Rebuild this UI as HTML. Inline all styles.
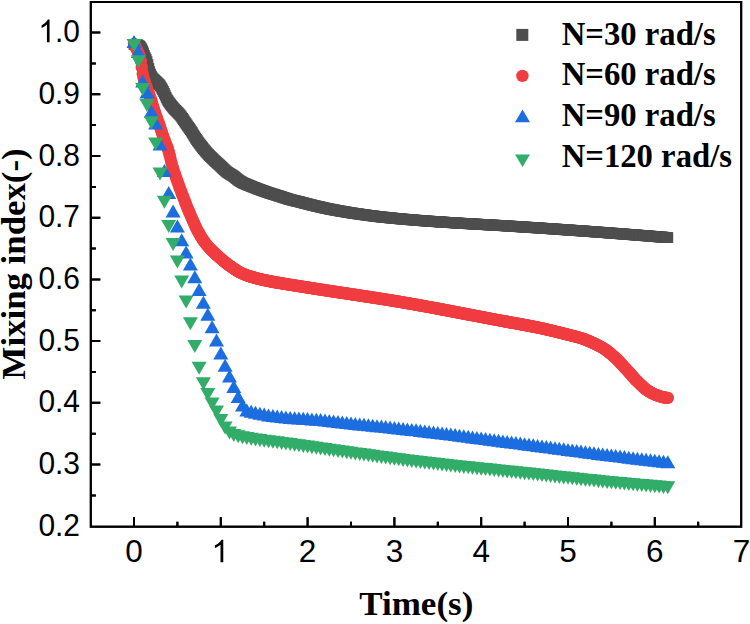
<!DOCTYPE html>
<html><head><meta charset="utf-8"><style>html,body{margin:0;padding:0;background:#fff;width:750px;height:624px;overflow:hidden}svg{display:block}</style></head>
<body>
<svg width="750" height="624" viewBox="0 0 750 624">
<style>
.tk{font-family:"Liberation Sans",sans-serif;font-size:31.5px;fill:#000}
.lg{font-family:"Liberation Serif",serif;font-weight:bold;font-size:32.7px;fill:#000}
.ax{font-family:"Liberation Serif",serif;font-weight:bold;font-size:35px;fill:#000}
</style>
<rect width="750" height="624" fill="#fff"/>
<rect x="90.8" y="2.0" width="650.4" height="524.7" fill="none" stroke="#000" stroke-width="2"/><path d="M134.0 526.7V517.2M177.4 526.7V521.7M220.8 526.7V517.2M264.2 526.7V521.7M307.6 526.7V517.2M351.0 526.7V521.7M394.4 526.7V517.2M437.8 526.7V521.7M481.2 526.7V517.2M524.6 526.7V521.7M568.0 526.7V517.2M611.4 526.7V521.7M654.8 526.7V517.2M698.2 526.7V521.7M90.8 495.4H95.8M90.8 464.5H100.3M90.8 433.7H95.8M90.8 402.8H100.3M90.8 372.0H95.8M90.8 341.1H100.3M90.8 310.2H95.8M90.8 279.4H100.3M90.8 248.5H95.8M90.8 217.7H100.3M90.8 186.9H95.8M90.8 156.0H100.3M90.8 125.1H95.8M90.8 94.3H100.3M90.8 63.4H95.8M90.8 32.6H100.3" stroke="#000" stroke-width="2" fill="none"/>
<g fill="#4e4e4e"><rect x="128.6" y="39.1" width="10.8" height="10.8"/><rect x="129.5" y="39.1" width="10.8" height="10.8"/><rect x="130.3" y="39.2" width="10.8" height="10.8"/><rect x="131.2" y="39.3" width="10.8" height="10.8"/><rect x="132.1" y="39.5" width="10.8" height="10.8"/><rect x="132.9" y="39.7" width="10.8" height="10.8"/><rect x="133.8" y="40.3" width="10.8" height="10.8"/><rect x="134.7" y="41.1" width="10.8" height="10.8"/><rect x="135.5" y="42.2" width="10.8" height="10.8"/><rect x="136.4" y="43.6" width="10.8" height="10.8"/><rect x="137.3" y="45.4" width="10.8" height="10.8"/><rect x="138.1" y="47.5" width="10.8" height="10.8"/><rect x="139.0" y="50.0" width="10.8" height="10.8"/><rect x="139.9" y="52.3" width="10.8" height="10.8"/><rect x="140.8" y="54.2" width="10.8" height="10.8"/><rect x="141.6" y="56.2" width="10.8" height="10.8"/><rect x="142.5" y="59.1" width="10.8" height="10.8"/><rect x="143.4" y="63.1" width="10.8" height="10.8"/><rect x="144.2" y="66.2" width="10.8" height="10.8"/><rect x="145.1" y="68.6" width="10.8" height="10.8"/><rect x="146.0" y="70.6" width="10.8" height="10.8"/><rect x="146.8" y="72.2" width="10.8" height="10.8"/><rect x="147.7" y="73.3" width="10.8" height="10.8"/><rect x="148.6" y="74.2" width="10.8" height="10.8"/><rect x="149.4" y="75.0" width="10.8" height="10.8"/><rect x="150.3" y="75.8" width="10.8" height="10.8"/><rect x="151.2" y="76.6" width="10.8" height="10.8"/><rect x="152.0" y="77.4" width="10.8" height="10.8"/><rect x="152.9" y="78.3" width="10.8" height="10.8"/><rect x="153.8" y="79.1" width="10.8" height="10.8"/><rect x="154.6" y="80.2" width="10.8" height="10.8"/><rect x="155.5" y="81.4" width="10.8" height="10.8"/><rect x="156.4" y="82.9" width="10.8" height="10.8"/><rect x="157.2" y="84.5" width="10.8" height="10.8"/><rect x="158.1" y="86.1" width="10.8" height="10.8"/><rect x="159.0" y="87.9" width="10.8" height="10.8"/><rect x="159.8" y="89.9" width="10.8" height="10.8"/><rect x="160.7" y="91.9" width="10.8" height="10.8"/><rect x="161.6" y="93.7" width="10.8" height="10.8"/><rect x="162.5" y="95.2" width="10.8" height="10.8"/><rect x="163.3" y="96.5" width="10.8" height="10.8"/><rect x="164.2" y="97.7" width="10.8" height="10.8"/><rect x="165.1" y="98.9" width="10.8" height="10.8"/><rect x="165.9" y="100.0" width="10.8" height="10.8"/><rect x="166.8" y="101.0" width="10.8" height="10.8"/><rect x="167.7" y="102.1" width="10.8" height="10.8"/><rect x="168.5" y="103.1" width="10.8" height="10.8"/><rect x="169.4" y="104.1" width="10.8" height="10.8"/><rect x="170.3" y="105.0" width="10.8" height="10.8"/><rect x="171.1" y="105.8" width="10.8" height="10.8"/><rect x="172.0" y="106.7" width="10.8" height="10.8"/><rect x="172.9" y="107.6" width="10.8" height="10.8"/><rect x="173.7" y="108.5" width="10.8" height="10.8"/><rect x="174.6" y="109.5" width="10.8" height="10.8"/><rect x="175.5" y="110.6" width="10.8" height="10.8"/><rect x="176.3" y="111.7" width="10.8" height="10.8"/><rect x="177.2" y="113.0" width="10.8" height="10.8"/><rect x="178.1" y="114.3" width="10.8" height="10.8"/><rect x="178.9" y="115.6" width="10.8" height="10.8"/><rect x="179.8" y="116.9" width="10.8" height="10.8"/><rect x="180.7" y="118.2" width="10.8" height="10.8"/><rect x="181.5" y="119.5" width="10.8" height="10.8"/><rect x="182.4" y="120.7" width="10.8" height="10.8"/><rect x="183.3" y="121.9" width="10.8" height="10.8"/><rect x="184.2" y="123.2" width="10.8" height="10.8"/><rect x="185.0" y="124.4" width="10.8" height="10.8"/><rect x="185.9" y="125.7" width="10.8" height="10.8"/><rect x="186.8" y="127.1" width="10.8" height="10.8"/><rect x="187.6" y="128.5" width="10.8" height="10.8"/><rect x="188.5" y="130.0" width="10.8" height="10.8"/><rect x="189.4" y="131.4" width="10.8" height="10.8"/><rect x="190.2" y="132.8" width="10.8" height="10.8"/><rect x="191.1" y="134.1" width="10.8" height="10.8"/><rect x="192.0" y="135.3" width="10.8" height="10.8"/><rect x="192.8" y="136.5" width="10.8" height="10.8"/><rect x="193.7" y="137.7" width="10.8" height="10.8"/><rect x="194.6" y="138.9" width="10.8" height="10.8"/><rect x="195.4" y="140.0" width="10.8" height="10.8"/><rect x="196.3" y="141.1" width="10.8" height="10.8"/><rect x="197.2" y="142.2" width="10.8" height="10.8"/><rect x="198.0" y="143.3" width="10.8" height="10.8"/><rect x="198.9" y="144.3" width="10.8" height="10.8"/><rect x="199.8" y="145.4" width="10.8" height="10.8"/><rect x="200.6" y="146.4" width="10.8" height="10.8"/><rect x="201.5" y="147.4" width="10.8" height="10.8"/><rect x="202.4" y="148.4" width="10.8" height="10.8"/><rect x="203.2" y="149.3" width="10.8" height="10.8"/><rect x="204.1" y="150.2" width="10.8" height="10.8"/><rect x="205.0" y="151.1" width="10.8" height="10.8"/><rect x="205.9" y="151.9" width="10.8" height="10.8"/><rect x="206.7" y="152.8" width="10.8" height="10.8"/><rect x="207.6" y="153.6" width="10.8" height="10.8"/><rect x="208.5" y="154.5" width="10.8" height="10.8"/><rect x="209.3" y="155.3" width="10.8" height="10.8"/><rect x="210.2" y="156.1" width="10.8" height="10.8"/><rect x="211.1" y="156.9" width="10.8" height="10.8"/><rect x="211.9" y="157.7" width="10.8" height="10.8"/><rect x="212.8" y="158.5" width="10.8" height="10.8"/><rect x="213.7" y="159.2" width="10.8" height="10.8"/><rect x="214.5" y="160.0" width="10.8" height="10.8"/><rect x="215.4" y="160.9" width="10.8" height="10.8"/><rect x="216.3" y="161.7" width="10.8" height="10.8"/><rect x="217.1" y="162.6" width="10.8" height="10.8"/><rect x="218.0" y="163.4" width="10.8" height="10.8"/><rect x="218.9" y="164.2" width="10.8" height="10.8"/><rect x="219.7" y="165.0" width="10.8" height="10.8"/><rect x="220.6" y="165.8" width="10.8" height="10.8"/><rect x="221.5" y="166.5" width="10.8" height="10.8"/><rect x="222.3" y="167.1" width="10.8" height="10.8"/><rect x="223.2" y="167.7" width="10.8" height="10.8"/><rect x="224.1" y="168.2" width="10.8" height="10.8"/><rect x="224.9" y="168.8" width="10.8" height="10.8"/><rect x="225.8" y="169.3" width="10.8" height="10.8"/><rect x="226.7" y="169.8" width="10.8" height="10.8"/><rect x="227.6" y="170.4" width="10.8" height="10.8"/><rect x="228.4" y="171.0" width="10.8" height="10.8"/><rect x="229.3" y="171.7" width="10.8" height="10.8"/><rect x="230.2" y="172.4" width="10.8" height="10.8"/><rect x="231.0" y="173.1" width="10.8" height="10.8"/><rect x="231.9" y="173.8" width="10.8" height="10.8"/><rect x="232.8" y="174.5" width="10.8" height="10.8"/><rect x="233.6" y="175.2" width="10.8" height="10.8"/><rect x="234.5" y="175.7" width="10.8" height="10.8"/><rect x="235.4" y="176.2" width="10.8" height="10.8"/><rect x="236.2" y="176.7" width="10.8" height="10.8"/><rect x="237.1" y="177.2" width="10.8" height="10.8"/><rect x="238.0" y="177.6" width="10.8" height="10.8"/><rect x="238.8" y="178.0" width="10.8" height="10.8"/><rect x="239.7" y="178.4" width="10.8" height="10.8"/><rect x="240.6" y="178.7" width="10.8" height="10.8"/><rect x="241.4" y="179.1" width="10.8" height="10.8"/><rect x="242.3" y="179.5" width="10.8" height="10.8"/><rect x="243.2" y="179.8" width="10.8" height="10.8"/><rect x="244.0" y="180.2" width="10.8" height="10.8"/><rect x="244.9" y="180.5" width="10.8" height="10.8"/><rect x="245.8" y="180.9" width="10.8" height="10.8"/><rect x="246.6" y="181.2" width="10.8" height="10.8"/><rect x="247.5" y="181.6" width="10.8" height="10.8"/><rect x="248.4" y="181.9" width="10.8" height="10.8"/><rect x="249.3" y="182.3" width="10.8" height="10.8"/><rect x="250.1" y="182.6" width="10.8" height="10.8"/><rect x="251.0" y="182.9" width="10.8" height="10.8"/><rect x="251.9" y="183.3" width="10.8" height="10.8"/><rect x="252.7" y="183.6" width="10.8" height="10.8"/><rect x="253.6" y="183.9" width="10.8" height="10.8"/><rect x="254.5" y="184.2" width="10.8" height="10.8"/><rect x="255.3" y="184.6" width="10.8" height="10.8"/><rect x="256.2" y="184.9" width="10.8" height="10.8"/><rect x="257.1" y="185.2" width="10.8" height="10.8"/><rect x="257.9" y="185.5" width="10.8" height="10.8"/><rect x="258.8" y="185.8" width="10.8" height="10.8"/><rect x="259.7" y="186.1" width="10.8" height="10.8"/><rect x="260.5" y="186.4" width="10.8" height="10.8"/><rect x="261.4" y="186.7" width="10.8" height="10.8"/><rect x="262.3" y="187.0" width="10.8" height="10.8"/><rect x="263.1" y="187.3" width="10.8" height="10.8"/><rect x="264.0" y="187.6" width="10.8" height="10.8"/><rect x="264.9" y="187.9" width="10.8" height="10.8"/><rect x="265.7" y="188.1" width="10.8" height="10.8"/><rect x="266.6" y="188.4" width="10.8" height="10.8"/><rect x="267.5" y="188.7" width="10.8" height="10.8"/><rect x="268.3" y="189.0" width="10.8" height="10.8"/><rect x="269.2" y="189.2" width="10.8" height="10.8"/><rect x="270.1" y="189.5" width="10.8" height="10.8"/><rect x="271.0" y="189.8" width="10.8" height="10.8"/><rect x="271.8" y="190.0" width="10.8" height="10.8"/><rect x="272.7" y="190.3" width="10.8" height="10.8"/><rect x="273.6" y="190.6" width="10.8" height="10.8"/><rect x="274.4" y="190.8" width="10.8" height="10.8"/><rect x="275.3" y="191.1" width="10.8" height="10.8"/><rect x="276.2" y="191.4" width="10.8" height="10.8"/><rect x="277.0" y="191.7" width="10.8" height="10.8"/><rect x="277.9" y="192.0" width="10.8" height="10.8"/><rect x="278.8" y="192.3" width="10.8" height="10.8"/><rect x="279.6" y="192.6" width="10.8" height="10.8"/><rect x="280.5" y="192.8" width="10.8" height="10.8"/><rect x="281.4" y="193.1" width="10.8" height="10.8"/><rect x="282.2" y="193.4" width="10.8" height="10.8"/><rect x="283.1" y="193.7" width="10.8" height="10.8"/><rect x="284.0" y="193.9" width="10.8" height="10.8"/><rect x="284.8" y="194.2" width="10.8" height="10.8"/><rect x="285.7" y="194.4" width="10.8" height="10.8"/><rect x="286.6" y="194.6" width="10.8" height="10.8"/><rect x="287.4" y="194.9" width="10.8" height="10.8"/><rect x="288.3" y="195.1" width="10.8" height="10.8"/><rect x="289.2" y="195.3" width="10.8" height="10.8"/><rect x="290.0" y="195.5" width="10.8" height="10.8"/><rect x="290.9" y="195.7" width="10.8" height="10.8"/><rect x="291.8" y="195.9" width="10.8" height="10.8"/><rect x="292.7" y="196.1" width="10.8" height="10.8"/><rect x="293.5" y="196.3" width="10.8" height="10.8"/><rect x="294.4" y="196.5" width="10.8" height="10.8"/><rect x="295.3" y="196.8" width="10.8" height="10.8"/><rect x="296.1" y="197.0" width="10.8" height="10.8"/><rect x="297.0" y="197.2" width="10.8" height="10.8"/><rect x="297.9" y="197.4" width="10.8" height="10.8"/><rect x="298.7" y="197.7" width="10.8" height="10.8"/><rect x="299.6" y="197.9" width="10.8" height="10.8"/><rect x="300.5" y="198.1" width="10.8" height="10.8"/><rect x="301.3" y="198.3" width="10.8" height="10.8"/><rect x="302.2" y="198.5" width="10.8" height="10.8"/><rect x="303.1" y="198.8" width="10.8" height="10.8"/><rect x="303.9" y="199.0" width="10.8" height="10.8"/><rect x="304.8" y="199.2" width="10.8" height="10.8"/><rect x="305.7" y="199.4" width="10.8" height="10.8"/><rect x="306.5" y="199.7" width="10.8" height="10.8"/><rect x="307.4" y="199.9" width="10.8" height="10.8"/><rect x="308.3" y="200.1" width="10.8" height="10.8"/><rect x="309.1" y="200.3" width="10.8" height="10.8"/><rect x="310.0" y="200.5" width="10.8" height="10.8"/><rect x="310.9" y="200.7" width="10.8" height="10.8"/><rect x="311.7" y="200.9" width="10.8" height="10.8"/><rect x="312.6" y="201.1" width="10.8" height="10.8"/><rect x="313.5" y="201.3" width="10.8" height="10.8"/><rect x="314.4" y="201.5" width="10.8" height="10.8"/><rect x="315.2" y="201.7" width="10.8" height="10.8"/><rect x="316.1" y="201.9" width="10.8" height="10.8"/><rect x="317.0" y="202.1" width="10.8" height="10.8"/><rect x="317.8" y="202.3" width="10.8" height="10.8"/><rect x="318.7" y="202.5" width="10.8" height="10.8"/><rect x="319.6" y="202.7" width="10.8" height="10.8"/><rect x="320.4" y="202.9" width="10.8" height="10.8"/><rect x="321.3" y="203.0" width="10.8" height="10.8"/><rect x="322.2" y="203.2" width="10.8" height="10.8"/><rect x="323.0" y="203.4" width="10.8" height="10.8"/><rect x="323.9" y="203.6" width="10.8" height="10.8"/><rect x="324.8" y="203.8" width="10.8" height="10.8"/><rect x="325.6" y="203.9" width="10.8" height="10.8"/><rect x="326.5" y="204.1" width="10.8" height="10.8"/><rect x="327.4" y="204.3" width="10.8" height="10.8"/><rect x="328.2" y="204.4" width="10.8" height="10.8"/><rect x="329.1" y="204.6" width="10.8" height="10.8"/><rect x="330.0" y="204.8" width="10.8" height="10.8"/><rect x="330.8" y="204.9" width="10.8" height="10.8"/><rect x="331.7" y="205.1" width="10.8" height="10.8"/><rect x="332.6" y="205.2" width="10.8" height="10.8"/><rect x="333.4" y="205.4" width="10.8" height="10.8"/><rect x="334.3" y="205.6" width="10.8" height="10.8"/><rect x="335.2" y="205.7" width="10.8" height="10.8"/><rect x="336.1" y="205.8" width="10.8" height="10.8"/><rect x="336.9" y="206.0" width="10.8" height="10.8"/><rect x="337.8" y="206.1" width="10.8" height="10.8"/><rect x="338.7" y="206.3" width="10.8" height="10.8"/><rect x="339.5" y="206.4" width="10.8" height="10.8"/><rect x="340.4" y="206.6" width="10.8" height="10.8"/><rect x="341.3" y="206.7" width="10.8" height="10.8"/><rect x="342.1" y="206.9" width="10.8" height="10.8"/><rect x="343.0" y="207.0" width="10.8" height="10.8"/><rect x="343.9" y="207.1" width="10.8" height="10.8"/><rect x="344.7" y="207.3" width="10.8" height="10.8"/><rect x="345.6" y="207.4" width="10.8" height="10.8"/><rect x="346.5" y="207.6" width="10.8" height="10.8"/><rect x="347.3" y="207.7" width="10.8" height="10.8"/><rect x="348.2" y="207.8" width="10.8" height="10.8"/><rect x="349.1" y="208.0" width="10.8" height="10.8"/><rect x="349.9" y="208.1" width="10.8" height="10.8"/><rect x="350.8" y="208.2" width="10.8" height="10.8"/><rect x="351.7" y="208.4" width="10.8" height="10.8"/><rect x="352.5" y="208.5" width="10.8" height="10.8"/><rect x="353.4" y="208.6" width="10.8" height="10.8"/><rect x="354.3" y="208.7" width="10.8" height="10.8"/><rect x="355.1" y="208.9" width="10.8" height="10.8"/><rect x="356.0" y="209.0" width="10.8" height="10.8"/><rect x="356.9" y="209.1" width="10.8" height="10.8"/><rect x="357.8" y="209.2" width="10.8" height="10.8"/><rect x="358.6" y="209.4" width="10.8" height="10.8"/><rect x="359.5" y="209.5" width="10.8" height="10.8"/><rect x="360.4" y="209.6" width="10.8" height="10.8"/><rect x="361.2" y="209.7" width="10.8" height="10.8"/><rect x="362.1" y="209.8" width="10.8" height="10.8"/><rect x="363.0" y="210.0" width="10.8" height="10.8"/><rect x="363.8" y="210.1" width="10.8" height="10.8"/><rect x="364.7" y="210.2" width="10.8" height="10.8"/><rect x="365.6" y="210.3" width="10.8" height="10.8"/><rect x="366.4" y="210.4" width="10.8" height="10.8"/><rect x="367.3" y="210.5" width="10.8" height="10.8"/><rect x="368.2" y="210.6" width="10.8" height="10.8"/><rect x="369.0" y="210.7" width="10.8" height="10.8"/><rect x="369.9" y="210.8" width="10.8" height="10.8"/><rect x="370.8" y="211.0" width="10.8" height="10.8"/><rect x="371.6" y="211.1" width="10.8" height="10.8"/><rect x="372.5" y="211.2" width="10.8" height="10.8"/><rect x="373.4" y="211.3" width="10.8" height="10.8"/><rect x="374.2" y="211.4" width="10.8" height="10.8"/><rect x="375.1" y="211.5" width="10.8" height="10.8"/><rect x="376.0" y="211.6" width="10.8" height="10.8"/><rect x="376.8" y="211.7" width="10.8" height="10.8"/><rect x="377.7" y="211.7" width="10.8" height="10.8"/><rect x="378.6" y="211.8" width="10.8" height="10.8"/><rect x="379.5" y="211.9" width="10.8" height="10.8"/><rect x="380.3" y="212.0" width="10.8" height="10.8"/><rect x="381.2" y="212.1" width="10.8" height="10.8"/><rect x="382.1" y="212.2" width="10.8" height="10.8"/><rect x="382.9" y="212.3" width="10.8" height="10.8"/><rect x="383.8" y="212.4" width="10.8" height="10.8"/><rect x="384.7" y="212.5" width="10.8" height="10.8"/><rect x="385.5" y="212.6" width="10.8" height="10.8"/><rect x="386.4" y="212.6" width="10.8" height="10.8"/><rect x="387.3" y="212.7" width="10.8" height="10.8"/><rect x="388.1" y="212.8" width="10.8" height="10.8"/><rect x="389.0" y="212.9" width="10.8" height="10.8"/><rect x="389.9" y="213.0" width="10.8" height="10.8"/><rect x="390.7" y="213.1" width="10.8" height="10.8"/><rect x="391.6" y="213.1" width="10.8" height="10.8"/><rect x="392.5" y="213.2" width="10.8" height="10.8"/><rect x="393.3" y="213.3" width="10.8" height="10.8"/><rect x="394.2" y="213.4" width="10.8" height="10.8"/><rect x="395.1" y="213.5" width="10.8" height="10.8"/><rect x="395.9" y="213.5" width="10.8" height="10.8"/><rect x="396.8" y="213.6" width="10.8" height="10.8"/><rect x="397.7" y="213.7" width="10.8" height="10.8"/><rect x="398.5" y="213.8" width="10.8" height="10.8"/><rect x="399.4" y="213.9" width="10.8" height="10.8"/><rect x="400.3" y="213.9" width="10.8" height="10.8"/><rect x="401.2" y="214.0" width="10.8" height="10.8"/><rect x="402.0" y="214.1" width="10.8" height="10.8"/><rect x="402.9" y="214.2" width="10.8" height="10.8"/><rect x="403.8" y="214.2" width="10.8" height="10.8"/><rect x="404.6" y="214.3" width="10.8" height="10.8"/><rect x="405.5" y="214.4" width="10.8" height="10.8"/><rect x="406.4" y="214.4" width="10.8" height="10.8"/><rect x="407.2" y="214.5" width="10.8" height="10.8"/><rect x="408.1" y="214.6" width="10.8" height="10.8"/><rect x="409.0" y="214.7" width="10.8" height="10.8"/><rect x="409.8" y="214.7" width="10.8" height="10.8"/><rect x="410.7" y="214.8" width="10.8" height="10.8"/><rect x="411.6" y="214.9" width="10.8" height="10.8"/><rect x="412.4" y="214.9" width="10.8" height="10.8"/><rect x="413.3" y="215.0" width="10.8" height="10.8"/><rect x="414.2" y="215.1" width="10.8" height="10.8"/><rect x="415.0" y="215.1" width="10.8" height="10.8"/><rect x="415.9" y="215.2" width="10.8" height="10.8"/><rect x="416.8" y="215.3" width="10.8" height="10.8"/><rect x="417.6" y="215.3" width="10.8" height="10.8"/><rect x="418.5" y="215.4" width="10.8" height="10.8"/><rect x="419.4" y="215.5" width="10.8" height="10.8"/><rect x="420.2" y="215.5" width="10.8" height="10.8"/><rect x="421.1" y="215.6" width="10.8" height="10.8"/><rect x="422.0" y="215.7" width="10.8" height="10.8"/><rect x="422.9" y="215.7" width="10.8" height="10.8"/><rect x="423.7" y="215.8" width="10.8" height="10.8"/><rect x="424.6" y="215.8" width="10.8" height="10.8"/><rect x="425.5" y="215.9" width="10.8" height="10.8"/><rect x="426.3" y="216.0" width="10.8" height="10.8"/><rect x="427.2" y="216.0" width="10.8" height="10.8"/><rect x="428.1" y="216.1" width="10.8" height="10.8"/><rect x="428.9" y="216.1" width="10.8" height="10.8"/><rect x="429.8" y="216.2" width="10.8" height="10.8"/><rect x="430.7" y="216.3" width="10.8" height="10.8"/><rect x="431.5" y="216.3" width="10.8" height="10.8"/><rect x="432.4" y="216.4" width="10.8" height="10.8"/><rect x="433.3" y="216.4" width="10.8" height="10.8"/><rect x="434.1" y="216.5" width="10.8" height="10.8"/><rect x="435.0" y="216.6" width="10.8" height="10.8"/><rect x="435.9" y="216.6" width="10.8" height="10.8"/><rect x="436.7" y="216.7" width="10.8" height="10.8"/><rect x="437.6" y="216.7" width="10.8" height="10.8"/><rect x="438.5" y="216.8" width="10.8" height="10.8"/><rect x="439.3" y="216.8" width="10.8" height="10.8"/><rect x="440.2" y="216.9" width="10.8" height="10.8"/><rect x="441.1" y="217.0" width="10.8" height="10.8"/><rect x="441.9" y="217.0" width="10.8" height="10.8"/><rect x="442.8" y="217.1" width="10.8" height="10.8"/><rect x="443.7" y="217.1" width="10.8" height="10.8"/><rect x="444.6" y="217.2" width="10.8" height="10.8"/><rect x="445.4" y="217.2" width="10.8" height="10.8"/><rect x="446.3" y="217.3" width="10.8" height="10.8"/><rect x="447.2" y="217.3" width="10.8" height="10.8"/><rect x="448.0" y="217.4" width="10.8" height="10.8"/><rect x="448.9" y="217.4" width="10.8" height="10.8"/><rect x="449.8" y="217.5" width="10.8" height="10.8"/><rect x="450.6" y="217.6" width="10.8" height="10.8"/><rect x="451.5" y="217.6" width="10.8" height="10.8"/><rect x="452.4" y="217.7" width="10.8" height="10.8"/><rect x="453.2" y="217.7" width="10.8" height="10.8"/><rect x="454.1" y="217.8" width="10.8" height="10.8"/><rect x="455.0" y="217.8" width="10.8" height="10.8"/><rect x="455.8" y="217.9" width="10.8" height="10.8"/><rect x="456.7" y="217.9" width="10.8" height="10.8"/><rect x="457.6" y="218.0" width="10.8" height="10.8"/><rect x="458.4" y="218.0" width="10.8" height="10.8"/><rect x="459.3" y="218.1" width="10.8" height="10.8"/><rect x="460.2" y="218.1" width="10.8" height="10.8"/><rect x="461.0" y="218.2" width="10.8" height="10.8"/><rect x="461.9" y="218.2" width="10.8" height="10.8"/><rect x="462.8" y="218.3" width="10.8" height="10.8"/><rect x="463.6" y="218.3" width="10.8" height="10.8"/><rect x="464.5" y="218.4" width="10.8" height="10.8"/><rect x="465.4" y="218.4" width="10.8" height="10.8"/><rect x="466.3" y="218.5" width="10.8" height="10.8"/><rect x="467.1" y="218.5" width="10.8" height="10.8"/><rect x="468.0" y="218.6" width="10.8" height="10.8"/><rect x="468.9" y="218.6" width="10.8" height="10.8"/><rect x="469.7" y="218.7" width="10.8" height="10.8"/><rect x="470.6" y="218.7" width="10.8" height="10.8"/><rect x="471.5" y="218.8" width="10.8" height="10.8"/><rect x="472.3" y="218.8" width="10.8" height="10.8"/><rect x="473.2" y="218.9" width="10.8" height="10.8"/><rect x="474.1" y="218.9" width="10.8" height="10.8"/><rect x="474.9" y="219.0" width="10.8" height="10.8"/><rect x="475.8" y="219.0" width="10.8" height="10.8"/><rect x="476.7" y="219.1" width="10.8" height="10.8"/><rect x="477.5" y="219.1" width="10.8" height="10.8"/><rect x="478.4" y="219.2" width="10.8" height="10.8"/><rect x="479.3" y="219.2" width="10.8" height="10.8"/><rect x="480.1" y="219.3" width="10.8" height="10.8"/><rect x="481.0" y="219.3" width="10.8" height="10.8"/><rect x="481.9" y="219.4" width="10.8" height="10.8"/><rect x="482.7" y="219.4" width="10.8" height="10.8"/><rect x="483.6" y="219.5" width="10.8" height="10.8"/><rect x="484.5" y="219.5" width="10.8" height="10.8"/><rect x="485.3" y="219.6" width="10.8" height="10.8"/><rect x="486.2" y="219.6" width="10.8" height="10.8"/><rect x="487.1" y="219.7" width="10.8" height="10.8"/><rect x="488.0" y="219.7" width="10.8" height="10.8"/><rect x="488.8" y="219.8" width="10.8" height="10.8"/><rect x="489.7" y="219.8" width="10.8" height="10.8"/><rect x="490.6" y="219.9" width="10.8" height="10.8"/><rect x="491.4" y="219.9" width="10.8" height="10.8"/><rect x="492.3" y="220.0" width="10.8" height="10.8"/><rect x="493.2" y="220.0" width="10.8" height="10.8"/><rect x="494.0" y="220.1" width="10.8" height="10.8"/><rect x="494.9" y="220.1" width="10.8" height="10.8"/><rect x="495.8" y="220.2" width="10.8" height="10.8"/><rect x="496.6" y="220.2" width="10.8" height="10.8"/><rect x="497.5" y="220.3" width="10.8" height="10.8"/><rect x="498.4" y="220.3" width="10.8" height="10.8"/><rect x="499.2" y="220.4" width="10.8" height="10.8"/><rect x="500.1" y="220.4" width="10.8" height="10.8"/><rect x="501.0" y="220.5" width="10.8" height="10.8"/><rect x="501.8" y="220.5" width="10.8" height="10.8"/><rect x="502.7" y="220.6" width="10.8" height="10.8"/><rect x="503.6" y="220.7" width="10.8" height="10.8"/><rect x="504.4" y="220.7" width="10.8" height="10.8"/><rect x="505.3" y="220.8" width="10.8" height="10.8"/><rect x="506.2" y="220.8" width="10.8" height="10.8"/><rect x="507.0" y="220.9" width="10.8" height="10.8"/><rect x="507.9" y="220.9" width="10.8" height="10.8"/><rect x="508.8" y="221.0" width="10.8" height="10.8"/><rect x="509.7" y="221.0" width="10.8" height="10.8"/><rect x="510.5" y="221.1" width="10.8" height="10.8"/><rect x="511.4" y="221.1" width="10.8" height="10.8"/><rect x="512.3" y="221.2" width="10.8" height="10.8"/><rect x="513.1" y="221.3" width="10.8" height="10.8"/><rect x="514.0" y="221.3" width="10.8" height="10.8"/><rect x="514.9" y="221.4" width="10.8" height="10.8"/><rect x="515.7" y="221.4" width="10.8" height="10.8"/><rect x="516.6" y="221.5" width="10.8" height="10.8"/><rect x="517.5" y="221.5" width="10.8" height="10.8"/><rect x="518.3" y="221.6" width="10.8" height="10.8"/><rect x="519.2" y="221.6" width="10.8" height="10.8"/><rect x="520.1" y="221.7" width="10.8" height="10.8"/><rect x="520.9" y="221.8" width="10.8" height="10.8"/><rect x="521.8" y="221.8" width="10.8" height="10.8"/><rect x="522.7" y="221.9" width="10.8" height="10.8"/><rect x="523.5" y="221.9" width="10.8" height="10.8"/><rect x="524.4" y="222.0" width="10.8" height="10.8"/><rect x="525.3" y="222.0" width="10.8" height="10.8"/><rect x="526.1" y="222.1" width="10.8" height="10.8"/><rect x="527.0" y="222.1" width="10.8" height="10.8"/><rect x="527.9" y="222.2" width="10.8" height="10.8"/><rect x="528.7" y="222.3" width="10.8" height="10.8"/><rect x="529.6" y="222.3" width="10.8" height="10.8"/><rect x="530.5" y="222.4" width="10.8" height="10.8"/><rect x="531.4" y="222.4" width="10.8" height="10.8"/><rect x="532.2" y="222.5" width="10.8" height="10.8"/><rect x="533.1" y="222.5" width="10.8" height="10.8"/><rect x="534.0" y="222.6" width="10.8" height="10.8"/><rect x="534.8" y="222.7" width="10.8" height="10.8"/><rect x="535.7" y="222.7" width="10.8" height="10.8"/><rect x="536.6" y="222.8" width="10.8" height="10.8"/><rect x="537.4" y="222.8" width="10.8" height="10.8"/><rect x="538.3" y="222.9" width="10.8" height="10.8"/><rect x="539.2" y="223.0" width="10.8" height="10.8"/><rect x="540.0" y="223.0" width="10.8" height="10.8"/><rect x="540.9" y="223.1" width="10.8" height="10.8"/><rect x="541.8" y="223.1" width="10.8" height="10.8"/><rect x="542.6" y="223.2" width="10.8" height="10.8"/><rect x="543.5" y="223.2" width="10.8" height="10.8"/><rect x="544.4" y="223.3" width="10.8" height="10.8"/><rect x="545.2" y="223.4" width="10.8" height="10.8"/><rect x="546.1" y="223.4" width="10.8" height="10.8"/><rect x="547.0" y="223.5" width="10.8" height="10.8"/><rect x="547.8" y="223.5" width="10.8" height="10.8"/><rect x="548.7" y="223.6" width="10.8" height="10.8"/><rect x="549.6" y="223.7" width="10.8" height="10.8"/><rect x="550.4" y="223.7" width="10.8" height="10.8"/><rect x="551.3" y="223.8" width="10.8" height="10.8"/><rect x="552.2" y="223.8" width="10.8" height="10.8"/><rect x="553.1" y="223.9" width="10.8" height="10.8"/><rect x="553.9" y="224.0" width="10.8" height="10.8"/><rect x="554.8" y="224.0" width="10.8" height="10.8"/><rect x="555.7" y="224.1" width="10.8" height="10.8"/><rect x="556.5" y="224.1" width="10.8" height="10.8"/><rect x="557.4" y="224.2" width="10.8" height="10.8"/><rect x="558.3" y="224.3" width="10.8" height="10.8"/><rect x="559.1" y="224.3" width="10.8" height="10.8"/><rect x="560.0" y="224.4" width="10.8" height="10.8"/><rect x="560.9" y="224.4" width="10.8" height="10.8"/><rect x="561.7" y="224.5" width="10.8" height="10.8"/><rect x="562.6" y="224.6" width="10.8" height="10.8"/><rect x="563.5" y="224.6" width="10.8" height="10.8"/><rect x="564.3" y="224.7" width="10.8" height="10.8"/><rect x="565.2" y="224.7" width="10.8" height="10.8"/><rect x="566.1" y="224.8" width="10.8" height="10.8"/><rect x="566.9" y="224.9" width="10.8" height="10.8"/><rect x="567.8" y="224.9" width="10.8" height="10.8"/><rect x="568.7" y="225.0" width="10.8" height="10.8"/><rect x="569.5" y="225.0" width="10.8" height="10.8"/><rect x="570.4" y="225.1" width="10.8" height="10.8"/><rect x="571.3" y="225.2" width="10.8" height="10.8"/><rect x="572.1" y="225.2" width="10.8" height="10.8"/><rect x="573.0" y="225.3" width="10.8" height="10.8"/><rect x="573.9" y="225.3" width="10.8" height="10.8"/><rect x="574.8" y="225.4" width="10.8" height="10.8"/><rect x="575.6" y="225.5" width="10.8" height="10.8"/><rect x="576.5" y="225.5" width="10.8" height="10.8"/><rect x="577.4" y="225.6" width="10.8" height="10.8"/><rect x="578.2" y="225.7" width="10.8" height="10.8"/><rect x="579.1" y="225.7" width="10.8" height="10.8"/><rect x="580.0" y="225.8" width="10.8" height="10.8"/><rect x="580.8" y="225.8" width="10.8" height="10.8"/><rect x="581.7" y="225.9" width="10.8" height="10.8"/><rect x="582.6" y="226.0" width="10.8" height="10.8"/><rect x="583.4" y="226.0" width="10.8" height="10.8"/><rect x="584.3" y="226.1" width="10.8" height="10.8"/><rect x="585.2" y="226.2" width="10.8" height="10.8"/><rect x="586.0" y="226.2" width="10.8" height="10.8"/><rect x="586.9" y="226.3" width="10.8" height="10.8"/><rect x="587.8" y="226.3" width="10.8" height="10.8"/><rect x="588.6" y="226.4" width="10.8" height="10.8"/><rect x="589.5" y="226.5" width="10.8" height="10.8"/><rect x="590.4" y="226.5" width="10.8" height="10.8"/><rect x="591.2" y="226.6" width="10.8" height="10.8"/><rect x="592.1" y="226.7" width="10.8" height="10.8"/><rect x="593.0" y="226.7" width="10.8" height="10.8"/><rect x="593.8" y="226.8" width="10.8" height="10.8"/><rect x="594.7" y="226.9" width="10.8" height="10.8"/><rect x="595.6" y="226.9" width="10.8" height="10.8"/><rect x="596.5" y="227.0" width="10.8" height="10.8"/><rect x="597.3" y="227.1" width="10.8" height="10.8"/><rect x="598.2" y="227.1" width="10.8" height="10.8"/><rect x="599.1" y="227.2" width="10.8" height="10.8"/><rect x="599.9" y="227.2" width="10.8" height="10.8"/><rect x="600.8" y="227.3" width="10.8" height="10.8"/><rect x="601.7" y="227.4" width="10.8" height="10.8"/><rect x="602.5" y="227.4" width="10.8" height="10.8"/><rect x="603.4" y="227.5" width="10.8" height="10.8"/><rect x="604.3" y="227.6" width="10.8" height="10.8"/><rect x="605.1" y="227.6" width="10.8" height="10.8"/><rect x="606.0" y="227.7" width="10.8" height="10.8"/><rect x="606.9" y="227.8" width="10.8" height="10.8"/><rect x="607.7" y="227.8" width="10.8" height="10.8"/><rect x="608.6" y="227.9" width="10.8" height="10.8"/><rect x="609.5" y="228.0" width="10.8" height="10.8"/><rect x="610.3" y="228.0" width="10.8" height="10.8"/><rect x="611.2" y="228.1" width="10.8" height="10.8"/><rect x="612.1" y="228.2" width="10.8" height="10.8"/><rect x="612.9" y="228.2" width="10.8" height="10.8"/><rect x="613.8" y="228.3" width="10.8" height="10.8"/><rect x="614.7" y="228.4" width="10.8" height="10.8"/><rect x="615.5" y="228.4" width="10.8" height="10.8"/><rect x="616.4" y="228.5" width="10.8" height="10.8"/><rect x="617.3" y="228.6" width="10.8" height="10.8"/><rect x="618.2" y="228.6" width="10.8" height="10.8"/><rect x="619.0" y="228.7" width="10.8" height="10.8"/><rect x="619.9" y="228.8" width="10.8" height="10.8"/><rect x="620.8" y="228.8" width="10.8" height="10.8"/><rect x="621.6" y="228.9" width="10.8" height="10.8"/><rect x="622.5" y="229.0" width="10.8" height="10.8"/><rect x="623.4" y="229.0" width="10.8" height="10.8"/><rect x="624.2" y="229.1" width="10.8" height="10.8"/><rect x="625.1" y="229.2" width="10.8" height="10.8"/><rect x="626.0" y="229.2" width="10.8" height="10.8"/><rect x="626.8" y="229.3" width="10.8" height="10.8"/><rect x="627.7" y="229.4" width="10.8" height="10.8"/><rect x="628.6" y="229.4" width="10.8" height="10.8"/><rect x="629.4" y="229.5" width="10.8" height="10.8"/><rect x="630.3" y="229.6" width="10.8" height="10.8"/><rect x="631.2" y="229.6" width="10.8" height="10.8"/><rect x="632.0" y="229.7" width="10.8" height="10.8"/><rect x="632.9" y="229.8" width="10.8" height="10.8"/><rect x="633.8" y="229.8" width="10.8" height="10.8"/><rect x="634.6" y="229.9" width="10.8" height="10.8"/><rect x="635.5" y="230.0" width="10.8" height="10.8"/><rect x="636.4" y="230.1" width="10.8" height="10.8"/><rect x="637.2" y="230.1" width="10.8" height="10.8"/><rect x="638.1" y="230.2" width="10.8" height="10.8"/><rect x="639.0" y="230.3" width="10.8" height="10.8"/><rect x="639.9" y="230.3" width="10.8" height="10.8"/><rect x="640.7" y="230.4" width="10.8" height="10.8"/><rect x="641.6" y="230.5" width="10.8" height="10.8"/><rect x="642.5" y="230.5" width="10.8" height="10.8"/><rect x="643.3" y="230.6" width="10.8" height="10.8"/><rect x="644.2" y="230.7" width="10.8" height="10.8"/><rect x="645.1" y="230.8" width="10.8" height="10.8"/><rect x="645.9" y="230.8" width="10.8" height="10.8"/><rect x="646.8" y="230.9" width="10.8" height="10.8"/><rect x="647.7" y="231.0" width="10.8" height="10.8"/><rect x="648.5" y="231.0" width="10.8" height="10.8"/><rect x="649.4" y="231.1" width="10.8" height="10.8"/><rect x="650.3" y="231.2" width="10.8" height="10.8"/><rect x="651.1" y="231.2" width="10.8" height="10.8"/><rect x="652.0" y="231.3" width="10.8" height="10.8"/><rect x="652.9" y="231.4" width="10.8" height="10.8"/><rect x="653.7" y="231.5" width="10.8" height="10.8"/><rect x="654.6" y="231.5" width="10.8" height="10.8"/><rect x="655.5" y="231.6" width="10.8" height="10.8"/><rect x="656.3" y="231.7" width="10.8" height="10.8"/><rect x="657.2" y="231.7" width="10.8" height="10.8"/><rect x="658.1" y="231.8" width="10.8" height="10.8"/><rect x="658.9" y="231.9" width="10.8" height="10.8"/><rect x="659.8" y="232.0" width="10.8" height="10.8"/><rect x="660.7" y="232.0" width="10.8" height="10.8"/><rect x="661.6" y="232.1" width="10.8" height="10.8"/><rect x="662.4" y="232.1" width="10.8" height="10.8"/></g>
<g fill="#f03d40"><circle cx="134.0" cy="44.0" r="6.2"/><circle cx="134.9" cy="45.5" r="6.2"/><circle cx="135.7" cy="47.3" r="6.2"/><circle cx="136.6" cy="49.1" r="6.2"/><circle cx="137.5" cy="51.1" r="6.2"/><circle cx="138.3" cy="53.0" r="6.2"/><circle cx="139.2" cy="55.1" r="6.2"/><circle cx="140.1" cy="57.7" r="6.2"/><circle cx="140.9" cy="61.1" r="6.2"/><circle cx="141.8" cy="67.2" r="6.2"/><circle cx="142.7" cy="73.7" r="6.2"/><circle cx="143.5" cy="77.9" r="6.2"/><circle cx="144.4" cy="81.0" r="6.2"/><circle cx="145.3" cy="83.7" r="6.2"/><circle cx="146.2" cy="86.1" r="6.2"/><circle cx="147.0" cy="88.6" r="6.2"/><circle cx="147.9" cy="91.1" r="6.2"/><circle cx="148.8" cy="93.5" r="6.2"/><circle cx="149.6" cy="95.8" r="6.2"/><circle cx="150.5" cy="98.2" r="6.2"/><circle cx="151.4" cy="100.8" r="6.2"/><circle cx="152.2" cy="103.6" r="6.2"/><circle cx="153.1" cy="106.4" r="6.2"/><circle cx="154.0" cy="109.3" r="6.2"/><circle cx="154.8" cy="112.1" r="6.2"/><circle cx="155.7" cy="114.7" r="6.2"/><circle cx="156.6" cy="117.1" r="6.2"/><circle cx="157.4" cy="119.5" r="6.2"/><circle cx="158.3" cy="121.8" r="6.2"/><circle cx="159.2" cy="124.3" r="6.2"/><circle cx="160.0" cy="126.9" r="6.2"/><circle cx="160.9" cy="129.5" r="6.2"/><circle cx="161.8" cy="132.2" r="6.2"/><circle cx="162.6" cy="134.8" r="6.2"/><circle cx="163.5" cy="137.4" r="6.2"/><circle cx="164.4" cy="139.8" r="6.2"/><circle cx="165.2" cy="142.1" r="6.2"/><circle cx="166.1" cy="144.2" r="6.2"/><circle cx="167.0" cy="146.5" r="6.2"/><circle cx="167.9" cy="148.9" r="6.2"/><circle cx="168.7" cy="151.8" r="6.2"/><circle cx="169.6" cy="155.1" r="6.2"/><circle cx="170.5" cy="158.7" r="6.2"/><circle cx="171.3" cy="162.3" r="6.2"/><circle cx="172.2" cy="165.6" r="6.2"/><circle cx="173.1" cy="168.5" r="6.2"/><circle cx="173.9" cy="171.3" r="6.2"/><circle cx="174.8" cy="173.9" r="6.2"/><circle cx="175.7" cy="176.5" r="6.2"/><circle cx="176.5" cy="179.0" r="6.2"/><circle cx="177.4" cy="181.4" r="6.2"/><circle cx="178.3" cy="183.9" r="6.2"/><circle cx="179.1" cy="186.3" r="6.2"/><circle cx="180.0" cy="188.6" r="6.2"/><circle cx="180.9" cy="190.9" r="6.2"/><circle cx="181.7" cy="193.2" r="6.2"/><circle cx="182.6" cy="195.4" r="6.2"/><circle cx="183.5" cy="197.7" r="6.2"/><circle cx="184.3" cy="199.9" r="6.2"/><circle cx="185.2" cy="202.2" r="6.2"/><circle cx="186.1" cy="204.4" r="6.2"/><circle cx="186.9" cy="206.6" r="6.2"/><circle cx="187.8" cy="208.8" r="6.2"/><circle cx="188.7" cy="211.0" r="6.2"/><circle cx="189.6" cy="213.0" r="6.2"/><circle cx="190.4" cy="215.1" r="6.2"/><circle cx="191.3" cy="217.1" r="6.2"/><circle cx="192.2" cy="219.1" r="6.2"/><circle cx="193.0" cy="221.1" r="6.2"/><circle cx="193.9" cy="223.0" r="6.2"/><circle cx="194.8" cy="224.9" r="6.2"/><circle cx="195.6" cy="226.8" r="6.2"/><circle cx="196.5" cy="228.6" r="6.2"/><circle cx="197.4" cy="230.3" r="6.2"/><circle cx="198.2" cy="231.9" r="6.2"/><circle cx="199.1" cy="233.4" r="6.2"/><circle cx="200.0" cy="234.9" r="6.2"/><circle cx="200.8" cy="236.4" r="6.2"/><circle cx="201.7" cy="237.8" r="6.2"/><circle cx="202.6" cy="239.2" r="6.2"/><circle cx="203.4" cy="240.5" r="6.2"/><circle cx="204.3" cy="241.7" r="6.2"/><circle cx="205.2" cy="242.9" r="6.2"/><circle cx="206.0" cy="244.1" r="6.2"/><circle cx="206.9" cy="245.1" r="6.2"/><circle cx="207.8" cy="246.1" r="6.2"/><circle cx="208.6" cy="247.1" r="6.2"/><circle cx="209.5" cy="248.1" r="6.2"/><circle cx="210.4" cy="249.0" r="6.2"/><circle cx="211.3" cy="249.8" r="6.2"/><circle cx="212.1" cy="250.7" r="6.2"/><circle cx="213.0" cy="251.5" r="6.2"/><circle cx="213.9" cy="252.4" r="6.2"/><circle cx="214.7" cy="253.2" r="6.2"/><circle cx="215.6" cy="254.0" r="6.2"/><circle cx="216.5" cy="254.8" r="6.2"/><circle cx="217.3" cy="255.6" r="6.2"/><circle cx="218.2" cy="256.4" r="6.2"/><circle cx="219.1" cy="257.1" r="6.2"/><circle cx="219.9" cy="257.9" r="6.2"/><circle cx="220.8" cy="258.7" r="6.2"/><circle cx="221.7" cy="259.4" r="6.2"/><circle cx="222.5" cy="260.2" r="6.2"/><circle cx="223.4" cy="260.9" r="6.2"/><circle cx="224.3" cy="261.6" r="6.2"/><circle cx="225.1" cy="262.3" r="6.2"/><circle cx="226.0" cy="263.0" r="6.2"/><circle cx="226.9" cy="263.7" r="6.2"/><circle cx="227.7" cy="264.4" r="6.2"/><circle cx="228.6" cy="265.0" r="6.2"/><circle cx="229.5" cy="265.6" r="6.2"/><circle cx="230.3" cy="266.2" r="6.2"/><circle cx="231.2" cy="266.8" r="6.2"/><circle cx="232.1" cy="267.4" r="6.2"/><circle cx="233.0" cy="268.0" r="6.2"/><circle cx="233.8" cy="268.6" r="6.2"/><circle cx="234.7" cy="269.2" r="6.2"/><circle cx="235.6" cy="269.8" r="6.2"/><circle cx="236.4" cy="270.3" r="6.2"/><circle cx="237.3" cy="270.9" r="6.2"/><circle cx="238.2" cy="271.4" r="6.2"/><circle cx="239.0" cy="271.9" r="6.2"/><circle cx="239.9" cy="272.4" r="6.2"/><circle cx="240.8" cy="272.8" r="6.2"/><circle cx="241.6" cy="273.2" r="6.2"/><circle cx="242.5" cy="273.7" r="6.2"/><circle cx="243.4" cy="274.0" r="6.2"/><circle cx="244.2" cy="274.4" r="6.2"/><circle cx="245.1" cy="274.7" r="6.2"/><circle cx="246.0" cy="275.0" r="6.2"/><circle cx="246.8" cy="275.4" r="6.2"/><circle cx="247.7" cy="275.7" r="6.2"/><circle cx="248.6" cy="276.0" r="6.2"/><circle cx="249.4" cy="276.2" r="6.2"/><circle cx="250.3" cy="276.5" r="6.2"/><circle cx="251.2" cy="276.8" r="6.2"/><circle cx="252.0" cy="277.0" r="6.2"/><circle cx="252.9" cy="277.3" r="6.2"/><circle cx="253.8" cy="277.5" r="6.2"/><circle cx="254.7" cy="277.8" r="6.2"/><circle cx="255.5" cy="278.0" r="6.2"/><circle cx="256.4" cy="278.2" r="6.2"/><circle cx="257.3" cy="278.4" r="6.2"/><circle cx="258.1" cy="278.7" r="6.2"/><circle cx="259.0" cy="278.9" r="6.2"/><circle cx="259.9" cy="279.1" r="6.2"/><circle cx="260.7" cy="279.3" r="6.2"/><circle cx="261.6" cy="279.5" r="6.2"/><circle cx="262.5" cy="279.7" r="6.2"/><circle cx="263.3" cy="279.9" r="6.2"/><circle cx="264.2" cy="280.1" r="6.2"/><circle cx="265.1" cy="280.3" r="6.2"/><circle cx="265.9" cy="280.5" r="6.2"/><circle cx="266.8" cy="280.7" r="6.2"/><circle cx="267.7" cy="280.8" r="6.2"/><circle cx="268.5" cy="281.0" r="6.2"/><circle cx="269.4" cy="281.2" r="6.2"/><circle cx="270.3" cy="281.4" r="6.2"/><circle cx="271.1" cy="281.5" r="6.2"/><circle cx="272.0" cy="281.7" r="6.2"/><circle cx="272.9" cy="281.8" r="6.2"/><circle cx="273.7" cy="282.0" r="6.2"/><circle cx="274.6" cy="282.2" r="6.2"/><circle cx="275.5" cy="282.3" r="6.2"/><circle cx="276.4" cy="282.5" r="6.2"/><circle cx="277.2" cy="282.6" r="6.2"/><circle cx="278.1" cy="282.8" r="6.2"/><circle cx="279.0" cy="282.9" r="6.2"/><circle cx="279.8" cy="283.0" r="6.2"/><circle cx="280.7" cy="283.2" r="6.2"/><circle cx="281.6" cy="283.3" r="6.2"/><circle cx="282.4" cy="283.5" r="6.2"/><circle cx="283.3" cy="283.6" r="6.2"/><circle cx="284.2" cy="283.8" r="6.2"/><circle cx="285.0" cy="283.9" r="6.2"/><circle cx="285.9" cy="284.0" r="6.2"/><circle cx="286.8" cy="284.2" r="6.2"/><circle cx="287.6" cy="284.3" r="6.2"/><circle cx="288.5" cy="284.5" r="6.2"/><circle cx="289.4" cy="284.6" r="6.2"/><circle cx="290.2" cy="284.7" r="6.2"/><circle cx="291.1" cy="284.9" r="6.2"/><circle cx="292.0" cy="285.0" r="6.2"/><circle cx="292.8" cy="285.2" r="6.2"/><circle cx="293.7" cy="285.3" r="6.2"/><circle cx="294.6" cy="285.4" r="6.2"/><circle cx="295.4" cy="285.6" r="6.2"/><circle cx="296.3" cy="285.7" r="6.2"/><circle cx="297.2" cy="285.9" r="6.2"/><circle cx="298.1" cy="286.0" r="6.2"/><circle cx="298.9" cy="286.1" r="6.2"/><circle cx="299.8" cy="286.3" r="6.2"/><circle cx="300.7" cy="286.4" r="6.2"/><circle cx="301.5" cy="286.6" r="6.2"/><circle cx="302.4" cy="286.7" r="6.2"/><circle cx="303.3" cy="286.8" r="6.2"/><circle cx="304.1" cy="287.0" r="6.2"/><circle cx="305.0" cy="287.1" r="6.2"/><circle cx="305.9" cy="287.2" r="6.2"/><circle cx="306.7" cy="287.4" r="6.2"/><circle cx="307.6" cy="287.5" r="6.2"/><circle cx="308.5" cy="287.7" r="6.2"/><circle cx="309.3" cy="287.8" r="6.2"/><circle cx="310.2" cy="287.9" r="6.2"/><circle cx="311.1" cy="288.1" r="6.2"/><circle cx="311.9" cy="288.2" r="6.2"/><circle cx="312.8" cy="288.3" r="6.2"/><circle cx="313.7" cy="288.5" r="6.2"/><circle cx="314.5" cy="288.6" r="6.2"/><circle cx="315.4" cy="288.8" r="6.2"/><circle cx="316.3" cy="288.9" r="6.2"/><circle cx="317.1" cy="289.0" r="6.2"/><circle cx="318.0" cy="289.2" r="6.2"/><circle cx="318.9" cy="289.3" r="6.2"/><circle cx="319.8" cy="289.4" r="6.2"/><circle cx="320.6" cy="289.6" r="6.2"/><circle cx="321.5" cy="289.7" r="6.2"/><circle cx="322.4" cy="289.8" r="6.2"/><circle cx="323.2" cy="290.0" r="6.2"/><circle cx="324.1" cy="290.1" r="6.2"/><circle cx="325.0" cy="290.2" r="6.2"/><circle cx="325.8" cy="290.4" r="6.2"/><circle cx="326.7" cy="290.5" r="6.2"/><circle cx="327.6" cy="290.6" r="6.2"/><circle cx="328.4" cy="290.8" r="6.2"/><circle cx="329.3" cy="290.9" r="6.2"/><circle cx="330.2" cy="291.0" r="6.2"/><circle cx="331.0" cy="291.2" r="6.2"/><circle cx="331.9" cy="291.3" r="6.2"/><circle cx="332.8" cy="291.4" r="6.2"/><circle cx="333.6" cy="291.6" r="6.2"/><circle cx="334.5" cy="291.7" r="6.2"/><circle cx="335.4" cy="291.8" r="6.2"/><circle cx="336.2" cy="292.0" r="6.2"/><circle cx="337.1" cy="292.1" r="6.2"/><circle cx="338.0" cy="292.2" r="6.2"/><circle cx="338.8" cy="292.4" r="6.2"/><circle cx="339.7" cy="292.5" r="6.2"/><circle cx="340.6" cy="292.6" r="6.2"/><circle cx="341.5" cy="292.7" r="6.2"/><circle cx="342.3" cy="292.9" r="6.2"/><circle cx="343.2" cy="293.0" r="6.2"/><circle cx="344.1" cy="293.1" r="6.2"/><circle cx="344.9" cy="293.3" r="6.2"/><circle cx="345.8" cy="293.4" r="6.2"/><circle cx="346.7" cy="293.5" r="6.2"/><circle cx="347.5" cy="293.7" r="6.2"/><circle cx="348.4" cy="293.8" r="6.2"/><circle cx="349.3" cy="293.9" r="6.2"/><circle cx="350.1" cy="294.1" r="6.2"/><circle cx="351.0" cy="294.2" r="6.2"/><circle cx="351.9" cy="294.3" r="6.2"/><circle cx="352.7" cy="294.5" r="6.2"/><circle cx="353.6" cy="294.6" r="6.2"/><circle cx="354.5" cy="294.7" r="6.2"/><circle cx="355.3" cy="294.8" r="6.2"/><circle cx="356.2" cy="295.0" r="6.2"/><circle cx="357.1" cy="295.1" r="6.2"/><circle cx="357.9" cy="295.2" r="6.2"/><circle cx="358.8" cy="295.4" r="6.2"/><circle cx="359.7" cy="295.5" r="6.2"/><circle cx="360.5" cy="295.6" r="6.2"/><circle cx="361.4" cy="295.8" r="6.2"/><circle cx="362.3" cy="295.9" r="6.2"/><circle cx="363.2" cy="296.0" r="6.2"/><circle cx="364.0" cy="296.2" r="6.2"/><circle cx="364.9" cy="296.3" r="6.2"/><circle cx="365.8" cy="296.4" r="6.2"/><circle cx="366.6" cy="296.6" r="6.2"/><circle cx="367.5" cy="296.7" r="6.2"/><circle cx="368.4" cy="296.8" r="6.2"/><circle cx="369.2" cy="297.0" r="6.2"/><circle cx="370.1" cy="297.1" r="6.2"/><circle cx="371.0" cy="297.2" r="6.2"/><circle cx="371.8" cy="297.4" r="6.2"/><circle cx="372.7" cy="297.5" r="6.2"/><circle cx="373.6" cy="297.6" r="6.2"/><circle cx="374.4" cy="297.8" r="6.2"/><circle cx="375.3" cy="297.9" r="6.2"/><circle cx="376.2" cy="298.0" r="6.2"/><circle cx="377.0" cy="298.2" r="6.2"/><circle cx="377.9" cy="298.3" r="6.2"/><circle cx="378.8" cy="298.4" r="6.2"/><circle cx="379.6" cy="298.6" r="6.2"/><circle cx="380.5" cy="298.7" r="6.2"/><circle cx="381.4" cy="298.9" r="6.2"/><circle cx="382.2" cy="299.0" r="6.2"/><circle cx="383.1" cy="299.1" r="6.2"/><circle cx="384.0" cy="299.3" r="6.2"/><circle cx="384.9" cy="299.4" r="6.2"/><circle cx="385.7" cy="299.6" r="6.2"/><circle cx="386.6" cy="299.7" r="6.2"/><circle cx="387.5" cy="299.8" r="6.2"/><circle cx="388.3" cy="300.0" r="6.2"/><circle cx="389.2" cy="300.1" r="6.2"/><circle cx="390.1" cy="300.3" r="6.2"/><circle cx="390.9" cy="300.4" r="6.2"/><circle cx="391.8" cy="300.5" r="6.2"/><circle cx="392.7" cy="300.7" r="6.2"/><circle cx="393.5" cy="300.8" r="6.2"/><circle cx="394.4" cy="301.0" r="6.2"/><circle cx="395.3" cy="301.1" r="6.2"/><circle cx="396.1" cy="301.3" r="6.2"/><circle cx="397.0" cy="301.4" r="6.2"/><circle cx="397.9" cy="301.5" r="6.2"/><circle cx="398.7" cy="301.7" r="6.2"/><circle cx="399.6" cy="301.8" r="6.2"/><circle cx="400.5" cy="302.0" r="6.2"/><circle cx="401.3" cy="302.1" r="6.2"/><circle cx="402.2" cy="302.3" r="6.2"/><circle cx="403.1" cy="302.4" r="6.2"/><circle cx="403.9" cy="302.6" r="6.2"/><circle cx="404.8" cy="302.7" r="6.2"/><circle cx="405.7" cy="302.9" r="6.2"/><circle cx="406.6" cy="303.0" r="6.2"/><circle cx="407.4" cy="303.2" r="6.2"/><circle cx="408.3" cy="303.3" r="6.2"/><circle cx="409.2" cy="303.5" r="6.2"/><circle cx="410.0" cy="303.6" r="6.2"/><circle cx="410.9" cy="303.8" r="6.2"/><circle cx="411.8" cy="303.9" r="6.2"/><circle cx="412.6" cy="304.1" r="6.2"/><circle cx="413.5" cy="304.2" r="6.2"/><circle cx="414.4" cy="304.4" r="6.2"/><circle cx="415.2" cy="304.5" r="6.2"/><circle cx="416.1" cy="304.7" r="6.2"/><circle cx="417.0" cy="304.9" r="6.2"/><circle cx="417.8" cy="305.0" r="6.2"/><circle cx="418.7" cy="305.2" r="6.2"/><circle cx="419.6" cy="305.3" r="6.2"/><circle cx="420.4" cy="305.5" r="6.2"/><circle cx="421.3" cy="305.6" r="6.2"/><circle cx="422.2" cy="305.8" r="6.2"/><circle cx="423.0" cy="306.0" r="6.2"/><circle cx="423.9" cy="306.1" r="6.2"/><circle cx="424.8" cy="306.3" r="6.2"/><circle cx="425.6" cy="306.4" r="6.2"/><circle cx="426.5" cy="306.6" r="6.2"/><circle cx="427.4" cy="306.7" r="6.2"/><circle cx="428.3" cy="306.9" r="6.2"/><circle cx="429.1" cy="307.1" r="6.2"/><circle cx="430.0" cy="307.2" r="6.2"/><circle cx="430.9" cy="307.4" r="6.2"/><circle cx="431.7" cy="307.5" r="6.2"/><circle cx="432.6" cy="307.7" r="6.2"/><circle cx="433.5" cy="307.9" r="6.2"/><circle cx="434.3" cy="308.0" r="6.2"/><circle cx="435.2" cy="308.2" r="6.2"/><circle cx="436.1" cy="308.3" r="6.2"/><circle cx="436.9" cy="308.5" r="6.2"/><circle cx="437.8" cy="308.7" r="6.2"/><circle cx="438.7" cy="308.8" r="6.2"/><circle cx="439.5" cy="309.0" r="6.2"/><circle cx="440.4" cy="309.2" r="6.2"/><circle cx="441.3" cy="309.3" r="6.2"/><circle cx="442.1" cy="309.5" r="6.2"/><circle cx="443.0" cy="309.7" r="6.2"/><circle cx="443.9" cy="309.8" r="6.2"/><circle cx="444.7" cy="310.0" r="6.2"/><circle cx="445.6" cy="310.1" r="6.2"/><circle cx="446.5" cy="310.3" r="6.2"/><circle cx="447.3" cy="310.5" r="6.2"/><circle cx="448.2" cy="310.6" r="6.2"/><circle cx="449.1" cy="310.8" r="6.2"/><circle cx="450.0" cy="311.0" r="6.2"/><circle cx="450.8" cy="311.1" r="6.2"/><circle cx="451.7" cy="311.3" r="6.2"/><circle cx="452.6" cy="311.5" r="6.2"/><circle cx="453.4" cy="311.6" r="6.2"/><circle cx="454.3" cy="311.8" r="6.2"/><circle cx="455.2" cy="312.0" r="6.2"/><circle cx="456.0" cy="312.1" r="6.2"/><circle cx="456.9" cy="312.3" r="6.2"/><circle cx="457.8" cy="312.5" r="6.2"/><circle cx="458.6" cy="312.6" r="6.2"/><circle cx="459.5" cy="312.8" r="6.2"/><circle cx="460.4" cy="313.0" r="6.2"/><circle cx="461.2" cy="313.1" r="6.2"/><circle cx="462.1" cy="313.3" r="6.2"/><circle cx="463.0" cy="313.5" r="6.2"/><circle cx="463.8" cy="313.6" r="6.2"/><circle cx="464.7" cy="313.8" r="6.2"/><circle cx="465.6" cy="314.0" r="6.2"/><circle cx="466.4" cy="314.1" r="6.2"/><circle cx="467.3" cy="314.3" r="6.2"/><circle cx="468.2" cy="314.5" r="6.2"/><circle cx="469.0" cy="314.6" r="6.2"/><circle cx="469.9" cy="314.8" r="6.2"/><circle cx="470.8" cy="315.0" r="6.2"/><circle cx="471.7" cy="315.1" r="6.2"/><circle cx="472.5" cy="315.3" r="6.2"/><circle cx="473.4" cy="315.4" r="6.2"/><circle cx="474.3" cy="315.6" r="6.2"/><circle cx="475.1" cy="315.8" r="6.2"/><circle cx="476.0" cy="315.9" r="6.2"/><circle cx="476.9" cy="316.1" r="6.2"/><circle cx="477.7" cy="316.3" r="6.2"/><circle cx="478.6" cy="316.4" r="6.2"/><circle cx="479.5" cy="316.6" r="6.2"/><circle cx="480.3" cy="316.8" r="6.2"/><circle cx="481.2" cy="316.9" r="6.2"/><circle cx="482.1" cy="317.1" r="6.2"/><circle cx="482.9" cy="317.3" r="6.2"/><circle cx="483.8" cy="317.4" r="6.2"/><circle cx="484.7" cy="317.6" r="6.2"/><circle cx="485.5" cy="317.8" r="6.2"/><circle cx="486.4" cy="317.9" r="6.2"/><circle cx="487.3" cy="318.1" r="6.2"/><circle cx="488.1" cy="318.3" r="6.2"/><circle cx="489.0" cy="318.4" r="6.2"/><circle cx="489.9" cy="318.6" r="6.2"/><circle cx="490.7" cy="318.8" r="6.2"/><circle cx="491.6" cy="318.9" r="6.2"/><circle cx="492.5" cy="319.1" r="6.2"/><circle cx="493.4" cy="319.3" r="6.2"/><circle cx="494.2" cy="319.4" r="6.2"/><circle cx="495.1" cy="319.6" r="6.2"/><circle cx="496.0" cy="319.7" r="6.2"/><circle cx="496.8" cy="319.9" r="6.2"/><circle cx="497.7" cy="320.1" r="6.2"/><circle cx="498.6" cy="320.2" r="6.2"/><circle cx="499.4" cy="320.4" r="6.2"/><circle cx="500.3" cy="320.6" r="6.2"/><circle cx="501.2" cy="320.7" r="6.2"/><circle cx="502.0" cy="320.9" r="6.2"/><circle cx="502.9" cy="321.0" r="6.2"/><circle cx="503.8" cy="321.2" r="6.2"/><circle cx="504.6" cy="321.4" r="6.2"/><circle cx="505.5" cy="321.5" r="6.2"/><circle cx="506.4" cy="321.7" r="6.2"/><circle cx="507.2" cy="321.8" r="6.2"/><circle cx="508.1" cy="322.0" r="6.2"/><circle cx="509.0" cy="322.1" r="6.2"/><circle cx="509.8" cy="322.3" r="6.2"/><circle cx="510.7" cy="322.5" r="6.2"/><circle cx="511.6" cy="322.6" r="6.2"/><circle cx="512.4" cy="322.8" r="6.2"/><circle cx="513.3" cy="322.9" r="6.2"/><circle cx="514.2" cy="323.1" r="6.2"/><circle cx="515.1" cy="323.2" r="6.2"/><circle cx="515.9" cy="323.4" r="6.2"/><circle cx="516.8" cy="323.5" r="6.2"/><circle cx="517.7" cy="323.7" r="6.2"/><circle cx="518.5" cy="323.9" r="6.2"/><circle cx="519.4" cy="324.0" r="6.2"/><circle cx="520.3" cy="324.2" r="6.2"/><circle cx="521.1" cy="324.3" r="6.2"/><circle cx="522.0" cy="324.5" r="6.2"/><circle cx="522.9" cy="324.6" r="6.2"/><circle cx="523.7" cy="324.8" r="6.2"/><circle cx="524.6" cy="325.0" r="6.2"/><circle cx="525.5" cy="325.1" r="6.2"/><circle cx="526.3" cy="325.3" r="6.2"/><circle cx="527.2" cy="325.5" r="6.2"/><circle cx="528.1" cy="325.6" r="6.2"/><circle cx="528.9" cy="325.8" r="6.2"/><circle cx="529.8" cy="326.0" r="6.2"/><circle cx="530.7" cy="326.1" r="6.2"/><circle cx="531.5" cy="326.3" r="6.2"/><circle cx="532.4" cy="326.5" r="6.2"/><circle cx="533.3" cy="326.6" r="6.2"/><circle cx="534.1" cy="326.8" r="6.2"/><circle cx="535.0" cy="327.0" r="6.2"/><circle cx="535.9" cy="327.1" r="6.2"/><circle cx="536.8" cy="327.3" r="6.2"/><circle cx="537.6" cy="327.5" r="6.2"/><circle cx="538.5" cy="327.7" r="6.2"/><circle cx="539.4" cy="327.9" r="6.2"/><circle cx="540.2" cy="328.0" r="6.2"/><circle cx="541.1" cy="328.2" r="6.2"/><circle cx="542.0" cy="328.4" r="6.2"/><circle cx="542.8" cy="328.6" r="6.2"/><circle cx="543.7" cy="328.8" r="6.2"/><circle cx="544.6" cy="329.0" r="6.2"/><circle cx="545.4" cy="329.2" r="6.2"/><circle cx="546.3" cy="329.4" r="6.2"/><circle cx="547.2" cy="329.6" r="6.2"/><circle cx="548.0" cy="329.8" r="6.2"/><circle cx="548.9" cy="330.0" r="6.2"/><circle cx="549.8" cy="330.2" r="6.2"/><circle cx="550.6" cy="330.4" r="6.2"/><circle cx="551.5" cy="330.6" r="6.2"/><circle cx="552.4" cy="330.8" r="6.2"/><circle cx="553.2" cy="331.0" r="6.2"/><circle cx="554.1" cy="331.2" r="6.2"/><circle cx="555.0" cy="331.4" r="6.2"/><circle cx="555.8" cy="331.6" r="6.2"/><circle cx="556.7" cy="331.9" r="6.2"/><circle cx="557.6" cy="332.1" r="6.2"/><circle cx="558.5" cy="332.3" r="6.2"/><circle cx="559.3" cy="332.5" r="6.2"/><circle cx="560.2" cy="332.7" r="6.2"/><circle cx="561.1" cy="332.9" r="6.2"/><circle cx="561.9" cy="333.2" r="6.2"/><circle cx="562.8" cy="333.4" r="6.2"/><circle cx="563.7" cy="333.6" r="6.2"/><circle cx="564.5" cy="333.8" r="6.2"/><circle cx="565.4" cy="334.0" r="6.2"/><circle cx="566.3" cy="334.2" r="6.2"/><circle cx="567.1" cy="334.5" r="6.2"/><circle cx="568.0" cy="334.7" r="6.2"/><circle cx="568.9" cy="334.9" r="6.2"/><circle cx="569.7" cy="335.1" r="6.2"/><circle cx="570.6" cy="335.4" r="6.2"/><circle cx="571.5" cy="335.6" r="6.2"/><circle cx="572.3" cy="335.8" r="6.2"/><circle cx="573.2" cy="336.0" r="6.2"/><circle cx="574.1" cy="336.2" r="6.2"/><circle cx="574.9" cy="336.4" r="6.2"/><circle cx="575.8" cy="336.7" r="6.2"/><circle cx="576.7" cy="336.9" r="6.2"/><circle cx="577.5" cy="337.1" r="6.2"/><circle cx="578.4" cy="337.4" r="6.2"/><circle cx="579.3" cy="337.6" r="6.2"/><circle cx="580.2" cy="337.9" r="6.2"/><circle cx="581.0" cy="338.1" r="6.2"/><circle cx="581.9" cy="338.4" r="6.2"/><circle cx="582.8" cy="338.7" r="6.2"/><circle cx="583.6" cy="339.0" r="6.2"/><circle cx="584.5" cy="339.3" r="6.2"/><circle cx="585.4" cy="339.7" r="6.2"/><circle cx="586.2" cy="340.0" r="6.2"/><circle cx="587.1" cy="340.4" r="6.2"/><circle cx="588.0" cy="340.7" r="6.2"/><circle cx="588.8" cy="341.1" r="6.2"/><circle cx="589.7" cy="341.5" r="6.2"/><circle cx="590.6" cy="341.8" r="6.2"/><circle cx="591.4" cy="342.2" r="6.2"/><circle cx="592.3" cy="342.6" r="6.2"/><circle cx="593.2" cy="343.0" r="6.2"/><circle cx="594.0" cy="343.4" r="6.2"/><circle cx="594.9" cy="343.8" r="6.2"/><circle cx="595.8" cy="344.2" r="6.2"/><circle cx="596.6" cy="344.6" r="6.2"/><circle cx="597.5" cy="345.1" r="6.2"/><circle cx="598.4" cy="345.5" r="6.2"/><circle cx="599.2" cy="345.9" r="6.2"/><circle cx="600.1" cy="346.4" r="6.2"/><circle cx="601.0" cy="346.9" r="6.2"/><circle cx="601.9" cy="347.4" r="6.2"/><circle cx="602.7" cy="347.9" r="6.2"/><circle cx="603.6" cy="348.4" r="6.2"/><circle cx="604.5" cy="349.0" r="6.2"/><circle cx="605.3" cy="349.6" r="6.2"/><circle cx="606.2" cy="350.2" r="6.2"/><circle cx="607.1" cy="350.8" r="6.2"/><circle cx="607.9" cy="351.5" r="6.2"/><circle cx="608.8" cy="352.2" r="6.2"/><circle cx="609.7" cy="352.9" r="6.2"/><circle cx="610.5" cy="353.6" r="6.2"/><circle cx="611.4" cy="354.3" r="6.2"/><circle cx="612.3" cy="355.1" r="6.2"/><circle cx="613.1" cy="355.8" r="6.2"/><circle cx="614.0" cy="356.6" r="6.2"/><circle cx="614.9" cy="357.4" r="6.2"/><circle cx="615.7" cy="358.2" r="6.2"/><circle cx="616.6" cy="359.0" r="6.2"/><circle cx="617.5" cy="359.9" r="6.2"/><circle cx="618.3" cy="360.7" r="6.2"/><circle cx="619.2" cy="361.6" r="6.2"/><circle cx="620.1" cy="362.6" r="6.2"/><circle cx="620.9" cy="363.5" r="6.2"/><circle cx="621.8" cy="364.4" r="6.2"/><circle cx="622.7" cy="365.4" r="6.2"/><circle cx="623.6" cy="366.3" r="6.2"/><circle cx="624.4" cy="367.3" r="6.2"/><circle cx="625.3" cy="368.2" r="6.2"/><circle cx="626.2" cy="369.2" r="6.2"/><circle cx="627.0" cy="370.1" r="6.2"/><circle cx="627.9" cy="371.1" r="6.2"/><circle cx="628.8" cy="372.0" r="6.2"/><circle cx="629.6" cy="373.0" r="6.2"/><circle cx="630.5" cy="374.0" r="6.2"/><circle cx="631.4" cy="375.0" r="6.2"/><circle cx="632.2" cy="376.0" r="6.2"/><circle cx="633.1" cy="377.0" r="6.2"/><circle cx="634.0" cy="377.9" r="6.2"/><circle cx="634.8" cy="378.9" r="6.2"/><circle cx="635.7" cy="379.8" r="6.2"/><circle cx="636.6" cy="380.7" r="6.2"/><circle cx="637.4" cy="381.5" r="6.2"/><circle cx="638.3" cy="382.4" r="6.2"/><circle cx="639.2" cy="383.2" r="6.2"/><circle cx="640.0" cy="384.1" r="6.2"/><circle cx="640.9" cy="384.9" r="6.2"/><circle cx="641.8" cy="385.7" r="6.2"/><circle cx="642.6" cy="386.5" r="6.2"/><circle cx="643.5" cy="387.3" r="6.2"/><circle cx="644.4" cy="388.1" r="6.2"/><circle cx="645.3" cy="388.8" r="6.2"/><circle cx="646.1" cy="389.5" r="6.2"/><circle cx="647.0" cy="390.1" r="6.2"/><circle cx="647.9" cy="390.7" r="6.2"/><circle cx="648.7" cy="391.3" r="6.2"/><circle cx="649.6" cy="391.8" r="6.2"/><circle cx="650.5" cy="392.3" r="6.2"/><circle cx="651.3" cy="392.8" r="6.2"/><circle cx="652.2" cy="393.3" r="6.2"/><circle cx="653.1" cy="393.7" r="6.2"/><circle cx="653.9" cy="394.1" r="6.2"/><circle cx="654.8" cy="394.5" r="6.2"/><circle cx="655.7" cy="394.9" r="6.2"/><circle cx="656.5" cy="395.2" r="6.2"/><circle cx="657.4" cy="395.5" r="6.2"/><circle cx="658.3" cy="395.8" r="6.2"/><circle cx="659.1" cy="396.1" r="6.2"/><circle cx="660.0" cy="396.4" r="6.2"/><circle cx="660.9" cy="396.6" r="6.2"/><circle cx="661.7" cy="396.9" r="6.2"/><circle cx="662.6" cy="397.1" r="6.2"/><circle cx="663.5" cy="397.3" r="6.2"/><circle cx="664.3" cy="397.5" r="6.2"/><circle cx="665.2" cy="397.6" r="6.2"/><circle cx="666.1" cy="397.8" r="6.2"/><circle cx="667.0" cy="397.9" r="6.2"/><circle cx="667.8" cy="397.9" r="6.2"/></g>
<g fill="#1b6de0"><path d="M134.0 35.0L141.5 48.0H126.5Z"/><path d="M138.3 45.0L145.8 58.0H130.8Z"/><path d="M142.7 74.5L150.2 87.5H135.2Z"/><path d="M147.0 85.5L154.5 98.5H139.5Z"/><path d="M151.4 104.7L158.9 117.7H143.9Z"/><path d="M155.7 116.5L163.2 129.5H148.2Z"/><path d="M160.0 137.5L167.5 150.5H152.5Z"/><path d="M164.4 164.0L171.9 177.0H156.9Z"/><path d="M168.7 185.9L176.2 198.9H161.2Z"/><path d="M173.1 204.4L180.6 217.4H165.6Z"/><path d="M177.4 219.5L184.9 232.5H169.9Z"/><path d="M181.7 233.2L189.2 246.2H174.2Z"/><path d="M186.1 245.6L193.6 258.6H178.6Z"/><path d="M190.4 257.6L197.9 270.6H182.9Z"/><path d="M194.8 270.3L202.3 283.3H187.3Z"/><path d="M199.1 283.0L206.6 296.0H191.6Z"/><path d="M203.4 295.8L210.9 308.8H195.9Z"/><path d="M207.8 307.7L215.3 320.7H200.3Z"/><path d="M212.1 320.3L219.6 333.3H204.6Z"/><path d="M216.5 333.4L224.0 346.4H209.0Z"/><path d="M220.8 346.4L228.3 359.4H213.3Z"/><path d="M225.1 358.7L232.6 371.7H217.6Z"/><path d="M229.5 369.5L237.0 382.5H222.0Z"/><path d="M233.8 380.0L241.3 393.0H226.3Z"/><path d="M238.2 390.0L245.7 403.0H230.7Z"/><path d="M242.5 398.5L250.0 411.5H235.0Z"/><path d="M246.8 403.5L254.3 416.5H239.3Z"/><path d="M251.2 404.7L258.7 417.7H243.7Z"/><path d="M255.5 405.8L263.0 418.8H248.0Z"/><path d="M259.9 406.8L267.4 419.8H252.4Z"/><path d="M264.2 407.6L271.7 420.6H256.7Z"/><path d="M268.5 408.4L276.0 421.4H261.0Z"/><path d="M272.9 409.0L280.4 422.0H265.4Z"/><path d="M277.2 409.6L284.7 422.6H269.7Z"/><path d="M281.6 410.1L289.1 423.1H274.1Z"/><path d="M285.9 410.5L293.4 423.5H278.4Z"/><path d="M290.2 410.9L297.7 423.9H282.7Z"/><path d="M294.6 411.2L302.1 424.2H287.1Z"/><path d="M298.9 411.5L306.4 424.5H291.4Z"/><path d="M303.3 411.8L310.8 424.8H295.8Z"/><path d="M307.6 412.1L315.1 425.1H300.1Z"/><path d="M311.9 412.5L319.4 425.5H304.4Z"/><path d="M316.3 412.8L323.8 425.8H308.8Z"/><path d="M320.6 413.1L328.1 426.1H313.1Z"/><path d="M325.0 413.6L332.5 426.6H317.5Z"/><path d="M329.3 414.0L336.8 427.0H321.8Z"/><path d="M333.6 414.5L341.1 427.5H326.1Z"/><path d="M338.0 415.0L345.5 428.0H330.5Z"/><path d="M342.3 415.5L349.8 428.5H334.8Z"/><path d="M346.7 416.0L354.2 429.0H339.2Z"/><path d="M351.0 416.4L358.5 429.4H343.5Z"/><path d="M355.3 416.9L362.8 429.9H347.8Z"/><path d="M359.7 417.4L367.2 430.4H352.2Z"/><path d="M364.0 417.8L371.5 430.8H356.5Z"/><path d="M368.4 418.3L375.9 431.3H360.9Z"/><path d="M372.7 418.7L380.2 431.7H365.2Z"/><path d="M377.0 419.2L384.5 432.2H369.5Z"/><path d="M381.4 419.6L388.9 432.6H373.9Z"/><path d="M385.7 420.1L393.2 433.1H378.2Z"/><path d="M390.1 420.5L397.6 433.5H382.6Z"/><path d="M394.4 421.0L401.9 434.0H386.9Z"/><path d="M398.7 421.4L406.2 434.4H391.2Z"/><path d="M403.1 421.9L410.6 434.9H395.6Z"/><path d="M407.4 422.4L414.9 435.4H399.9Z"/><path d="M411.8 422.9L419.3 435.9H404.3Z"/><path d="M416.1 423.3L423.6 436.3H408.6Z"/><path d="M420.4 423.9L427.9 436.9H412.9Z"/><path d="M424.8 424.4L432.3 437.4H417.3Z"/><path d="M429.1 424.9L436.6 437.9H421.6Z"/><path d="M433.5 425.4L441.0 438.4H426.0Z"/><path d="M437.8 425.9L445.3 438.9H430.3Z"/><path d="M442.1 426.5L449.6 439.5H434.6Z"/><path d="M446.5 427.0L454.0 440.0H439.0Z"/><path d="M450.8 427.6L458.3 440.6H443.3Z"/><path d="M455.2 428.1L462.7 441.1H447.7Z"/><path d="M459.5 428.7L467.0 441.7H452.0Z"/><path d="M463.8 429.2L471.3 442.2H456.3Z"/><path d="M468.2 429.8L475.7 442.8H460.7Z"/><path d="M472.5 430.4L480.0 443.4H465.0Z"/><path d="M476.9 430.9L484.4 443.9H469.4Z"/><path d="M481.2 431.5L488.7 444.5H473.7Z"/><path d="M485.5 432.1L493.0 445.1H478.0Z"/><path d="M489.9 432.7L497.4 445.7H482.4Z"/><path d="M494.2 433.2L501.7 446.2H486.7Z"/><path d="M498.6 433.8L506.1 446.8H491.1Z"/><path d="M502.9 434.4L510.4 447.4H495.4Z"/><path d="M507.2 434.9L514.7 447.9H499.7Z"/><path d="M511.6 435.5L519.1 448.5H504.1Z"/><path d="M515.9 436.1L523.4 449.1H508.4Z"/><path d="M520.3 436.6L527.8 449.6H512.8Z"/><path d="M524.6 437.2L532.1 450.2H517.1Z"/><path d="M528.9 437.8L536.4 450.8H521.4Z"/><path d="M533.3 438.3L540.8 451.3H525.8Z"/><path d="M537.6 438.9L545.1 451.9H530.1Z"/><path d="M542.0 439.5L549.5 452.5H534.5Z"/><path d="M546.3 440.0L553.8 453.0H538.8Z"/><path d="M550.6 440.6L558.1 453.6H543.1Z"/><path d="M555.0 441.2L562.5 454.2H547.5Z"/><path d="M559.3 441.8L566.8 454.8H551.8Z"/><path d="M563.7 442.3L571.2 455.3H556.2Z"/><path d="M568.0 442.9L575.5 455.9H560.5Z"/><path d="M572.3 443.5L579.8 456.5H564.8Z"/><path d="M576.7 444.0L584.2 457.0H569.2Z"/><path d="M581.0 444.6L588.5 457.6H573.5Z"/><path d="M585.4 445.2L592.9 458.2H577.9Z"/><path d="M589.7 445.8L597.2 458.8H582.2Z"/><path d="M594.0 446.3L601.5 459.3H586.5Z"/><path d="M598.4 446.9L605.9 459.9H590.9Z"/><path d="M602.7 447.4L610.2 460.4H595.2Z"/><path d="M607.1 448.0L614.6 461.0H599.6Z"/><path d="M611.4 448.5L618.9 461.5H603.9Z"/><path d="M615.7 449.1L623.2 462.1H608.2Z"/><path d="M620.1 449.6L627.6 462.6H612.6Z"/><path d="M624.4 450.1L631.9 463.1H616.9Z"/><path d="M628.8 450.7L636.3 463.7H621.3Z"/><path d="M633.1 451.2L640.6 464.2H625.6Z"/><path d="M637.4 451.7L644.9 464.7H629.9Z"/><path d="M641.8 452.2L649.3 465.2H634.3Z"/><path d="M646.1 452.8L653.6 465.8H638.6Z"/><path d="M650.5 453.3L658.0 466.3H643.0Z"/><path d="M654.8 453.8L662.3 466.8H647.3Z"/><path d="M659.1 454.3L666.6 467.3H651.6Z"/><path d="M663.5 454.8L671.0 467.8H656.0Z"/><path d="M667.8 455.3L675.3 468.3H660.3Z"/></g>
<g fill="#31ad69"><path d="M126.5 39.0H141.5L134.0 52.0Z"/><path d="M130.8 55.3H145.8L138.3 68.3Z"/><path d="M135.2 83.1H150.2L142.7 96.1Z"/><path d="M139.5 99.0H154.5L147.0 112.0Z"/><path d="M143.9 116.3H158.9L151.4 129.3Z"/><path d="M148.2 137.6H163.2L155.7 150.6Z"/><path d="M152.5 167.6H167.5L160.0 180.6Z"/><path d="M156.9 195.7H171.9L164.4 208.7Z"/><path d="M161.2 219.9H176.2L168.7 232.9Z"/><path d="M165.6 238.0H180.6L173.1 251.0Z"/><path d="M169.9 255.6H184.9L177.4 268.6Z"/><path d="M174.2 275.5H189.2L181.7 288.5Z"/><path d="M178.6 295.5H193.6L186.1 308.5Z"/><path d="M182.9 317.2H197.9L190.4 330.2Z"/><path d="M187.3 340.0H202.3L194.8 353.0Z"/><path d="M191.6 361.8H206.6L199.1 374.8Z"/><path d="M195.9 377.2H210.9L203.4 390.2Z"/><path d="M200.3 388.0H215.3L207.8 401.0Z"/><path d="M204.6 397.5H219.6L212.1 410.5Z"/><path d="M209.0 405.5H224.0L216.5 418.5Z"/><path d="M213.3 414.0H228.3L220.8 427.0Z"/><path d="M217.6 421.5H232.6L225.1 434.5Z"/><path d="M222.0 426.5H237.0L229.5 439.5Z"/><path d="M226.3 429.0H241.3L233.8 442.0Z"/><path d="M230.7 430.3H245.7L238.2 443.3Z"/><path d="M235.0 431.2H250.0L242.5 444.2Z"/><path d="M239.3 432.0H254.3L246.8 445.0Z"/><path d="M243.7 432.7H258.7L251.2 445.7Z"/><path d="M248.0 433.4H263.0L255.5 446.4Z"/><path d="M252.4 434.1H267.4L259.9 447.1Z"/><path d="M256.7 434.7H271.7L264.2 447.7Z"/><path d="M261.0 435.2H276.0L268.5 448.2Z"/><path d="M265.4 435.8H280.4L272.9 448.8Z"/><path d="M269.7 436.3H284.7L277.2 449.3Z"/><path d="M274.1 436.9H289.1L281.6 449.9Z"/><path d="M278.4 437.4H293.4L285.9 450.4Z"/><path d="M282.7 438.0H297.7L290.2 451.0Z"/><path d="M287.1 438.7H302.1L294.6 451.7Z"/><path d="M291.4 439.3H306.4L298.9 452.3Z"/><path d="M295.8 439.9H310.8L303.3 452.9Z"/><path d="M300.1 440.5H315.1L307.6 453.5Z"/><path d="M304.4 441.2H319.4L311.9 454.2Z"/><path d="M308.8 441.8H323.8L316.3 454.8Z"/><path d="M313.1 442.5H328.1L320.6 455.5Z"/><path d="M317.5 443.1H332.5L325.0 456.1Z"/><path d="M321.8 443.7H336.8L329.3 456.7Z"/><path d="M326.1 444.3H341.1L333.6 457.3Z"/><path d="M330.5 444.9H345.5L338.0 457.9Z"/><path d="M334.8 445.5H349.8L342.3 458.5Z"/><path d="M339.2 446.2H354.2L346.7 459.2Z"/><path d="M343.5 446.8H358.5L351.0 459.8Z"/><path d="M347.8 447.4H362.8L355.3 460.4Z"/><path d="M352.2 448.0H367.2L359.7 461.0Z"/><path d="M356.5 448.6H371.5L364.0 461.6Z"/><path d="M360.9 449.2H375.9L368.4 462.2Z"/><path d="M365.2 449.8H380.2L372.7 462.8Z"/><path d="M369.5 450.4H384.5L377.0 463.4Z"/><path d="M373.9 451.0H388.9L381.4 464.0Z"/><path d="M378.2 451.6H393.2L385.7 464.6Z"/><path d="M382.6 452.2H397.6L390.1 465.2Z"/><path d="M386.9 452.8H401.9L394.4 465.8Z"/><path d="M391.2 453.3H406.2L398.7 466.3Z"/><path d="M395.6 453.9H410.6L403.1 466.9Z"/><path d="M399.9 454.4H414.9L407.4 467.4Z"/><path d="M404.3 455.0H419.3L411.8 468.0Z"/><path d="M408.6 455.5H423.6L416.1 468.5Z"/><path d="M412.9 456.1H427.9L420.4 469.1Z"/><path d="M417.3 456.6H432.3L424.8 469.6Z"/><path d="M421.6 457.1H436.6L429.1 470.1Z"/><path d="M426.0 457.6H441.0L433.5 470.6Z"/><path d="M430.3 458.1H445.3L437.8 471.1Z"/><path d="M434.6 458.5H449.6L442.1 471.5Z"/><path d="M439.0 459.0H454.0L446.5 472.0Z"/><path d="M443.3 459.5H458.3L450.8 472.5Z"/><path d="M447.7 460.0H462.7L455.2 473.0Z"/><path d="M452.0 460.4H467.0L459.5 473.4Z"/><path d="M456.3 460.9H471.3L463.8 473.9Z"/><path d="M460.7 461.3H475.7L468.2 474.3Z"/><path d="M465.0 461.8H480.0L472.5 474.8Z"/><path d="M469.4 462.2H484.4L476.9 475.2Z"/><path d="M473.7 462.7H488.7L481.2 475.7Z"/><path d="M478.0 463.1H493.0L485.5 476.1Z"/><path d="M482.4 463.6H497.4L489.9 476.6Z"/><path d="M486.7 464.0H501.7L494.2 477.0Z"/><path d="M491.1 464.5H506.1L498.6 477.5Z"/><path d="M495.4 464.9H510.4L502.9 477.9Z"/><path d="M499.7 465.4H514.7L507.2 478.4Z"/><path d="M504.1 465.8H519.1L511.6 478.8Z"/><path d="M508.4 466.3H523.4L515.9 479.3Z"/><path d="M512.8 466.7H527.8L520.3 479.7Z"/><path d="M517.1 467.2H532.1L524.6 480.2Z"/><path d="M521.4 467.6H536.4L528.9 480.6Z"/><path d="M525.8 468.1H540.8L533.3 481.1Z"/><path d="M530.1 468.6H545.1L537.6 481.6Z"/><path d="M534.5 469.0H549.5L542.0 482.0Z"/><path d="M538.8 469.5H553.8L546.3 482.5Z"/><path d="M543.1 470.0H558.1L550.6 483.0Z"/><path d="M547.5 470.4H562.5L555.0 483.4Z"/><path d="M551.8 470.9H566.8L559.3 483.9Z"/><path d="M556.2 471.4H571.2L563.7 484.4Z"/><path d="M560.5 471.8H575.5L568.0 484.8Z"/><path d="M564.8 472.3H579.8L572.3 485.3Z"/><path d="M569.2 472.7H584.2L576.7 485.7Z"/><path d="M573.5 473.2H588.5L581.0 486.2Z"/><path d="M577.9 473.7H592.9L585.4 486.7Z"/><path d="M582.2 474.1H597.2L589.7 487.1Z"/><path d="M586.5 474.5H601.5L594.0 487.5Z"/><path d="M590.9 475.0H605.9L598.4 488.0Z"/><path d="M595.2 475.4H610.2L602.7 488.4Z"/><path d="M599.6 475.9H614.6L607.1 488.9Z"/><path d="M603.9 476.3H618.9L611.4 489.3Z"/><path d="M608.2 476.7H623.2L615.7 489.7Z"/><path d="M612.6 477.1H627.6L620.1 490.1Z"/><path d="M616.9 477.5H631.9L624.4 490.5Z"/><path d="M621.3 477.9H636.3L628.8 490.9Z"/><path d="M625.6 478.3H640.6L633.1 491.3Z"/><path d="M629.9 478.7H644.9L637.4 491.7Z"/><path d="M634.3 479.1H649.3L641.8 492.1Z"/><path d="M638.6 479.5H653.6L646.1 492.5Z"/><path d="M643.0 479.8H658.0L650.5 492.8Z"/><path d="M647.3 480.2H662.3L654.8 493.2Z"/><path d="M651.6 480.6H666.6L659.1 493.6Z"/><path d="M656.0 480.9H671.0L663.5 493.9Z"/><path d="M660.3 481.3H675.3L667.8 494.3Z"/></g>
<rect x="90.8" y="2.0" width="650.4" height="524.7" fill="none" stroke="#000" stroke-width="2"/><path d="M134.0 526.7V517.2M177.4 526.7V521.7M220.8 526.7V517.2M264.2 526.7V521.7M307.6 526.7V517.2M351.0 526.7V521.7M394.4 526.7V517.2M437.8 526.7V521.7M481.2 526.7V517.2M524.6 526.7V521.7M568.0 526.7V517.2M611.4 526.7V521.7M654.8 526.7V517.2M698.2 526.7V521.7M90.8 495.4H95.8M90.8 464.5H100.3M90.8 433.7H95.8M90.8 402.8H100.3M90.8 372.0H95.8M90.8 341.1H100.3M90.8 310.2H95.8M90.8 279.4H100.3M90.8 248.5H95.8M90.8 217.7H100.3M90.8 186.9H95.8M90.8 156.0H100.3M90.8 125.1H95.8M90.8 94.3H100.3M90.8 63.4H95.8M90.8 32.6H100.3" stroke="#000" stroke-width="2" fill="none"/>
<text transform="translate(80.0 535.80) scale(0.95 1)" text-anchor="end" class="tk">0.2</text><text transform="translate(80.0 474.10) scale(0.95 1)" text-anchor="end" class="tk">0.3</text><text transform="translate(80.0 412.40) scale(0.95 1)" text-anchor="end" class="tk">0.4</text><text transform="translate(80.0 350.70) scale(0.95 1)" text-anchor="end" class="tk">0.5</text><text transform="translate(80.0 289.00) scale(0.95 1)" text-anchor="end" class="tk">0.6</text><text transform="translate(80.0 227.30) scale(0.95 1)" text-anchor="end" class="tk">0.7</text><text transform="translate(80.0 165.60) scale(0.95 1)" text-anchor="end" class="tk">0.8</text><text transform="translate(80.0 103.90) scale(0.95 1)" text-anchor="end" class="tk">0.9</text><g transform="translate(80.0 42.20) scale(0.95 1)"><text text-anchor="end" class="tk">.0</text><path transform="translate(-43.785 0) scale(0.015381 -0.015381)" d="M763 0L583 0L583 1147Q518 1085 465 1054Q412 1023 359 992Q306 961 221 930L221 1104Q376 1177 484 1273Q592 1370 647 1472L763 1472Z"/></g><text transform="translate(134.00 562.30)" text-anchor="middle" class="tk">0</text><path transform="translate(211.543 562.30) scale(0.015381 -0.015381)" d="M763 0L583 0L583 1147Q518 1085 465 1054Q412 1023 359 992Q306 961 221 930L221 1104Q376 1177 484 1273Q592 1370 647 1472L763 1472Z"/><text transform="translate(307.60 562.30)" text-anchor="middle" class="tk">2</text><text transform="translate(394.40 562.30)" text-anchor="middle" class="tk">3</text><text transform="translate(481.20 562.30)" text-anchor="middle" class="tk">4</text><text transform="translate(568.00 562.30)" text-anchor="middle" class="tk">5</text><text transform="translate(654.80 562.30)" text-anchor="middle" class="tk">6</text><text transform="translate(741.60 562.30)" text-anchor="middle" class="tk">7</text>
<rect x="516.3" y="28.9" width="12" height="12" fill="#4e4e4e"/><circle cx="522.4" cy="75.9" r="6.2" fill="#f03d40"/><path d="M522.5 109.4L530 122.2H515Z" fill="#1b6de0"/><path d="M515 154.6H530L522.5 167.1Z" fill="#31ad69"/><text x="561.7" y="44.5" class="lg">N=30 rad/s</text><text x="561.7" y="85.4" class="lg">N=60 rad/s</text><text x="561.7" y="126.3" class="lg">N=90 rad/s</text><text x="561.7" y="167.2" class="lg">N=120 rad/s</text>
<text transform="translate(416.3 615.4) scale(1 0.96)" text-anchor="middle" class="ax">Time(s)</text>
<text transform="translate(25.4 263.9) rotate(-90) scale(0.995 0.95)" text-anchor="middle" class="ax">Mixing index(-)</text>
</svg>
</body></html>
